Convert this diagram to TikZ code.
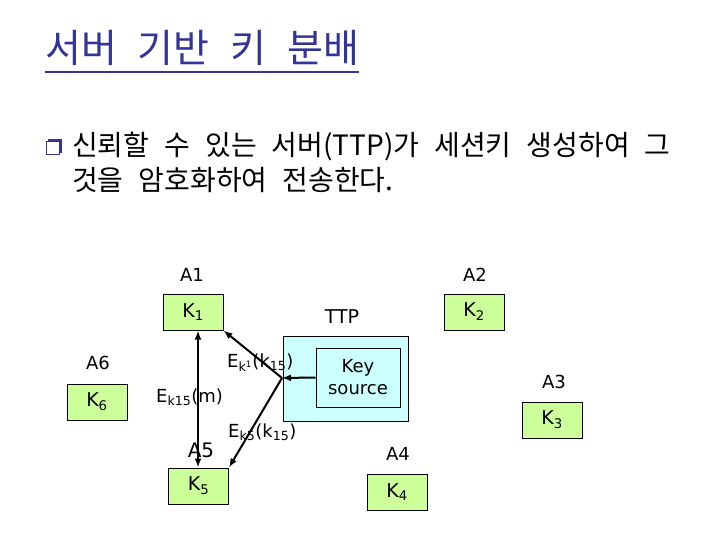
\documentclass[tikz,border=0pt]{standalone}
\usepackage{fontspec}
\setmainfont{DejaVu Sans}
\newfontfamily\titlefont[WordSpace=2.9]{Noto Sans CJK KR}
\newfontfamily\bodyfont[WordSpace=2.4]{Noto Sans CJK KR}
\usepackage{xcolor}
\usepackage{tikz}
\usetikzlibrary{positioning, arrows.meta}

\definecolor{titleblue}{RGB}{51,51,153}
\definecolor{keygreen}{RGB}{204,255,153}
\definecolor{ttpcyan}{RGB}{204,255,255}

\begin{document}
\begin{tikzpicture}[x=1pt, y=-1pt,
    keybox/.style={draw, line width=1pt, fill=keygreen, minimum width=60pt,
                   minimum height=36pt, inner sep=0pt,
                   font=\fontsize{19}{19}\selectfont},
    host/.style={inner sep=0pt, font=\fontsize{18}{18}\selectfont},
    msg/.style={inner sep=0pt, font=\fontsize{18}{18}\selectfont},
    arrow/.style={-{Latex[length=9pt, width=7pt]}, line width=2pt},
    twoway/.style={{Latex[length=9pt, width=7pt]}-{Latex[length=9pt, width=7pt]},
                   line width=2pt},
]
\useasboundingbox (0,0) rectangle (720,540);

% --- Title ---
\node[inner sep=0pt, anchor=base west, text=titleblue,
      font=\titlefont\fontsize{39}{39}\selectfont] (title) at (45,63)
    {서버 기반 키 분배};
\draw[titleblue, line width=2.4pt] ([yshift=-9pt]title.base west)
    -- ([yshift=-9pt]title.base east);

% --- Bullet text ---
\node[fill=titleblue, minimum size=14pt, inner sep=0pt] (shade) at (55,146) {};
\node[draw=titleblue, fill=white, line width=1.2pt, minimum size=13pt,
      inner sep=0pt] (bullet) at (53,148) {};
\node[inner sep=0pt, anchor=base west,
      font=\bodyfont\fontsize{28}{28}\selectfont] (line1) at (72,156)
    {신뢰할 수 있는 서버(TTP)가 세션키 생성하여 그};
\node[inner sep=0pt, anchor=base west,
      font=\bodyfont\fontsize{28}{28}\selectfont] (line2) at (72,191)
    {것을 암호화하여 전송한다.};

% --- TTP ---
\node[host, font=\fontsize{19}{19}\selectfont] (ttp) at (342,317) {TTP};
\node[draw, line width=1pt, fill=ttpcyan, minimum width=125pt,
      minimum height=85pt, inner sep=0pt] (ttpbox) at (345.5,378.5) {};
\node[draw, line width=1pt, fill=ttpcyan, minimum width=84pt,
      minimum height=59pt, align=center, inner sep=0pt,
      font=\fontsize{18}{22}\selectfont] (ksrc) at (358,377.5) {Key\\source};
\coordinate (hub) at (282,378);

% --- Hosts ---
\node[keybox] (k1) at (193,312) {K\textsubscript{1}};
\node[keybox] (k2) at (474,312) {K\textsubscript{2}};
\node[keybox] (k3) at (552,420) {K\textsubscript{3}};
\node[keybox] (k4) at (397,492) {K\textsubscript{4}};
\node[keybox] (k5) at (198.5,486) {K\textsubscript{5}};
\node[keybox] (k6) at (97,402) {K\textsubscript{6}};

\node[host] (a1) at (192,275) {A1};
\node[host] (a2) at (475,275) {A2};
\node[host] (a3) at (554,382) {A3};
\node[host] (a4) at (398,454) {A4};
\node[host, font=\fontsize{20}{20}\selectfont] (a5) at (201,450) {A5};
\node[host] (a6) at (98,363) {A6};

% --- Key delivery ---
\draw[arrow] (ksrc.west) -- (hub);
\draw[arrow] (hub) -- (k1.south east);
\draw[arrow] (hub) -- (k5.north east);
\draw[twoway] (k5.north -| 198,0) -- (k1.south -| 198,0);

% --- Messages ---
\node[msg, anchor=base west] (m1) at (227,367)
    {E\textsubscript{k\textsuperscript{1}}(k\textsubscript{15})};
\node[msg, anchor=base west] (m2) at (156,402)
    {E\textsubscript{k15}(m)};
\node[msg, anchor=base west] (m3) at (228,437)
    {E\textsubscript{k5}(k\textsubscript{15})};
\end{tikzpicture}
\end{document}
